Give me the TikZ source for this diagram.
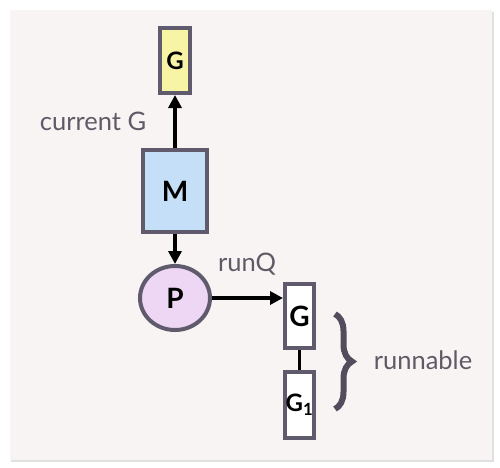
\documentclass[tikz,border=0pt]{standalone}
\usepackage{fontspec}
\setmainfont{Lato}
\usetikzlibrary{shapes.geometric,arrows.meta,decorations.pathreplacing}
\definecolor{card}{HTML}{F7F4F3}
\definecolor{edge}{HTML}{5F5B6D}
\definecolor{txt}{HTML}{5E5A66}
\definecolor{gyellow}{HTML}{F8F4A6}
\definecolor{mblue}{HTML}{C4DFF7}
\definecolor{ppurple}{HTML}{EED6F5}
\tikzset{
	box/.style={rectangle, draw=edge, line width=4pt, inner sep=0pt, font=\bfseries\fontsize{24}{24}\selectfont},
	big/.style={font=\bfseries\fontsize{28}{28}\selectfont},
	lbl/.style={text=txt, font=\fontsize{25.5}{25.5}\selectfont},
	link/.style={line width=3.5pt, -{Triangle[length=13pt,width=13pt]}}
}
\begin{document}
\begin{tikzpicture}[x=1pt,y=-1pt]
	\useasboundingbox (0,0) rectangle (500,467);
	% card
	\fill[white] (0,0) rectangle (500,467);
	\fill[black!12] (11,12) rectangle (494,462);
	\fill[card] (10,10) rectangle (492,460);
	% nodes
	\node (Gcur) at (175, 60.5)	[box, fill = gyellow, minimum width=30pt, minimum height=65pt]	{G};
	\node (M) at (175, 191)	[box, big, fill = mblue, minimum width=64pt, minimum height=82pt]	{M};
	\node (P) at (175, 298)	[ellipse, draw=edge, line width=4pt, big, fill = ppurple, minimum width=70pt, minimum height=64pt]	{P};
	\node (G) at (299.5, 316)	[box, big, fill = white, minimum width=29pt, minimum height=64pt]	{G};
	\node (G1) at (299.5, 405)	[box, fill = white, minimum width=29pt, minimum height=66pt]	{G\textsubscript{1}};
	% labels
	\node (cur) at (93, 121)	[lbl]	{current G};
	\node (runq) at (247, 264)	[lbl]	{runQ};
	\node (run) at (423, 360)	[lbl]	{runnable};
	% connectors
	\draw[link] (M.north) -- (Gcur.south);
	\draw[link] (M.south) -- (P.north);
	\draw[link] (P.east) -- (P.east -| G.west);
	\draw[line width=3.5pt] (G.south) -- (G1.north);
	\coordinate (bt) at (335, 314);
	\coordinate (bb) at (335, 409);
	\draw[edge!85!black, line width=6pt, decorate, decoration={brace, amplitude=17pt}] (bt) -- (bb);
\end{tikzpicture}
\end{document}
